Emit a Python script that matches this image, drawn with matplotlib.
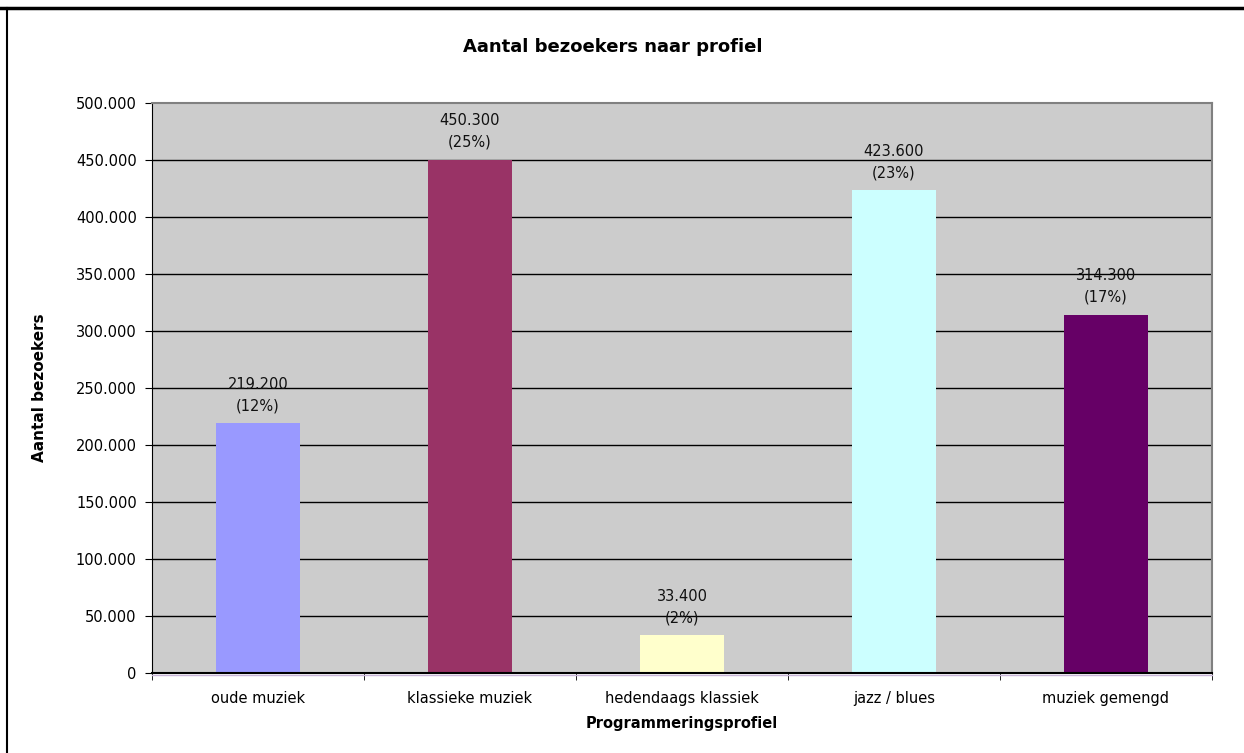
import numpy as np
import matplotlib
matplotlib.use('Agg')
import matplotlib.pyplot as plt
import matplotlib.transforms as mtransforms
from matplotlib.ticker import FuncFormatter, FixedLocator
from matplotlib.lines import Line2D

categories = ['oude muziek', 'klassieke muziek', 'hedendaags klassiek', 'jazz / blues', 'muziek gemengd']
bezoekers = [219200, 450300, 33400, 423600, 314300]
percentages = [12, 25, 2, 23, 17]
colors = ['#9999FF', '#993366', '#FFFFCC', '#CCFFFF', '#660066']


def dutch(v, pos=None):
    return f'{int(round(v)):,}'.replace(',', '.')


plt.rcParams['font.family'] = ['DejaVu Sans']
fig = plt.figure(figsize=(12.44, 7.53), dpi=100)
ax = fig.add_axes([152 / 1244, 1 - 673 / 753, 1060 / 1244, 570 / 753])
ax.set_facecolor('#CCCCCC')

x = np.arange(len(categories))
ax.bar(x, bezoekers, width=0.4, color=colors, zorder=2)

for xi, v, p in zip(x, bezoekers, percentages):
    ax.annotate(f'{dutch(v)}\n({p}%)', (xi, v), xytext=(0, 7), textcoords='offset points',
                ha='center', va='bottom', fontsize=10.5, linespacing=1.55, color='#111111')

ax.set_xlim(-0.5, len(categories) - 0.5)
ax.set_ylim(0, 500000)
ax.set_yticks(np.arange(0, 500001, 50000))
ax.yaxis.set_major_formatter(FuncFormatter(dutch))
ax.set_xticks(x)
ax.set_xticklabels(categories)
ax.xaxis.set_minor_locator(FixedLocator(np.arange(-0.5, len(categories), 1)))
ax.tick_params(axis='x', which='major', length=0, pad=13, labelsize=10.5)
ax.tick_params(axis='x', which='minor', length=5, direction='out', color='black')
ax.tick_params(axis='y', length=5, direction='out', labelsize=10.5, pad=6)

for yv in np.arange(50000, 500000, 50000):
    ax.axhline(yv, color='black', lw=1, zorder=1)

for s in ['top', 'right']:
    ax.spines[s].set_color('#808080')
    ax.spines[s].set_linewidth(1.5)
ax.spines['left'].set_color('black')
ax.spines['bottom'].set_color('black')
ax.spines['bottom'].set_linewidth(1.5)
ax.spines['bottom'].set_zorder(3)
# faint purple line just below the category axis
shift = ax.transAxes + mtransforms.ScaledTranslation(0, -2 / 100, fig.dpi_scale_trans)
ax.add_line(Line2D([0, 1], [0, 0], transform=shift, color='#C8B4D8', lw=1, clip_on=False))

fig.text(613 / 1244, 1 - 47 / 753, 'Aantal bezoekers naar profiel', fontsize=13,
         fontweight='bold', ha='center', va='center')
ax.set_ylabel('Aantal bezoekers', fontsize=11, fontweight='bold', labelpad=21)
ax.set_xlabel('Programmeringsprofiel', fontsize=10.5, fontweight='bold', labelpad=7)

# outer frame lines
fig.add_artist(Line2D([0, 1], [1 - 7.5 / 753, 1 - 7.5 / 753], color='black', lw=2.5))
fig.add_artist(Line2D([7.5 / 1244, 7.5 / 1244], [0, 1 - 7.5 / 753], color='black', lw=1.5))

plt.savefig('out.png', dpi=100)
